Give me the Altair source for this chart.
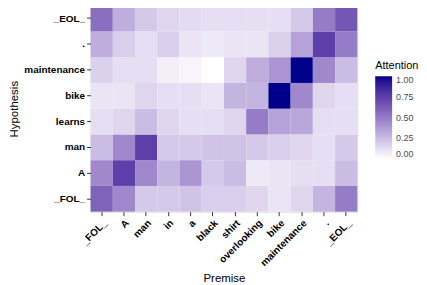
import altair as alt
import pandas as pd

premise = ["_FOL_", "A", "man", "in", "a", "black", "shirt", "overlooking", "bike", "maintenance", ".", "_EOL_"]
hypothesis = ["_FOL_", "A", "man", "learns", "bike", "maintenance", ".", "_EOL_"]  # bottom to top

# attention rows, keyed by hypothesis token, values across premise tokens
att_FOL = [0.60, 0.45, 0.20, 0.20, 0.22, 0.18, 0.18, 0.15, 0.10, 0.15, 0.28, 0.50]
att_A = [0.45, 0.75, 0.45, 0.28, 0.40, 0.20, 0.25, 0.08, 0.10, 0.12, 0.12, 0.25]
att_man = [0.25, 0.45, 0.75, 0.20, 0.20, 0.22, 0.22, 0.20, 0.18, 0.15, 0.12, 0.20]
att_learns = [0.12, 0.15, 0.25, 0.15, 0.12, 0.12, 0.15, 0.50, 0.35, 0.33, 0.12, 0.12]
att_bike = [0.10, 0.10, 0.15, 0.12, 0.12, 0.10, 0.28, 0.28, 1.00, 0.45, 0.15, 0.12]
att_maint = [0.17, 0.12, 0.12, 0.06, 0.04, 0.00, 0.15, 0.30, 0.40, 1.00, 0.45, 0.25]
att_dot = [0.30, 0.18, 0.12, 0.18, 0.10, 0.08, 0.10, 0.10, 0.17, 0.35, 0.75, 0.50]
att_EOL = [0.55, 0.30, 0.20, 0.15, 0.13, 0.12, 0.12, 0.12, 0.12, 0.20, 0.50, 0.65]

rows = [att_FOL, att_A, att_man, att_learns, att_bike, att_maint, att_dot, att_EOL]

records = []
for h, vals in zip(hypothesis, rows):
    for p, v in zip(premise, vals):
        records.append({"Premise": p, "Hypothesis": h, "Attention": v})
df = pd.DataFrame(records)

font = "Liberation Sans"
W, H = 268, 207

chart = alt.Chart(df).mark_rect().encode(
    x=alt.X("Premise:N", sort=premise,
            axis=alt.Axis(labelAngle=-45, labelAlign="right", labelBaseline="top",
                          labelFontWeight="bold", labelFontSize=10, labelColor="black",
                          titleFontWeight="normal", titleFontSize=11.5, titleColor="black",
                          tickColor="#333", tickSize=4, domain=False, labelPadding=2, titlePadding=5)),
    y=alt.Y("Hypothesis:N", sort=hypothesis[::-1],
            axis=alt.Axis(labelFontWeight="bold", labelFontSize=10, labelColor="black",
                          titleFontWeight="normal", titleFontSize=11.5, titleColor="black",
                          tickColor="#333", tickSize=4, domain=False, labelPadding=2, titlePadding=4)),
    color=alt.Color("Attention:Q",
                    scale=alt.Scale(domain=[0, 1], range=["white", "#00008B"], interpolate="lab"),
                    legend=alt.Legend(title="Attention", format=".2f", values=[0, 0.25, 0.5, 0.75, 1.0],
                                      orient="none", legendX=W + 18, legendY=55,
                                      gradientLength=83, gradientThickness=17,
                                      titleFontWeight="normal", titleFontSize=11, titleColor="black",
                                      labelFontSize=9, labelColor="#4D4D4D", labelOffset=4,
                                      gradientStrokeWidth=0)),
).properties(
    width=W, height=H,
    padding={"top": -3, "left": 0, "right": 0, "bottom": 0},
).configure_view(
    stroke="#333", strokeWidth=1
).configure(font=font).configure_axis(grid=False)

chart.save("out.html", embed_options={"renderer": "svg", "actions": False})
